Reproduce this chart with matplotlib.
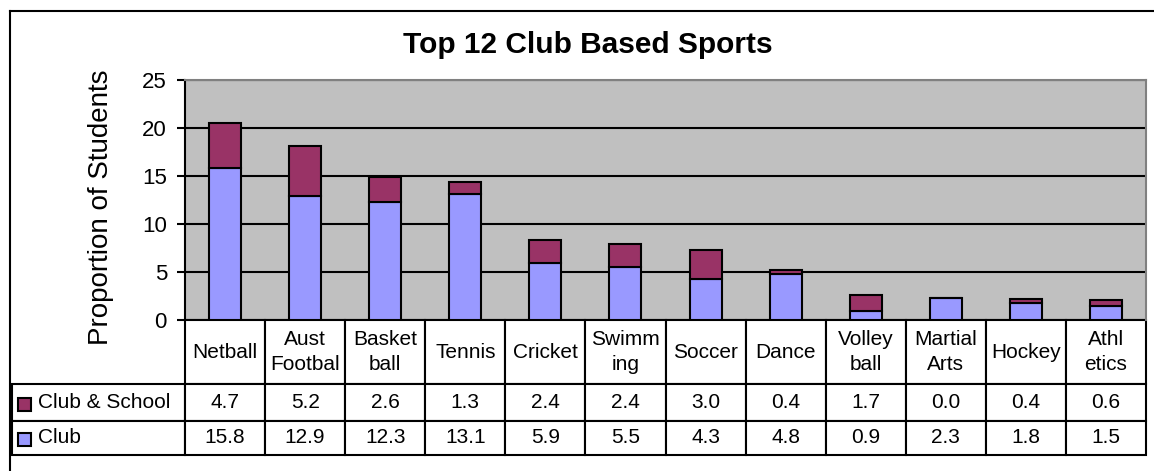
import matplotlib
matplotlib.use("Agg")
import matplotlib.pyplot as plt
from matplotlib.table import Table
from matplotlib.patches import Rectangle
from matplotlib.lines import Line2D
import numpy as np

plt.rcParams['font.family'] = ['Liberation Sans', 'DejaVu Sans']

categories = ["Netball", "Aust\nFootbal", "Basket\nball", "Tennis", "Cricket",
              "Swimm\ning", "Soccer", "Dance", "Volley\nball", "Martial\nArts",
              "Hockey", "Athl\netics"]
club_school = [4.7, 5.2, 2.6, 1.3, 2.4, 2.4, 3.0, 0.4, 1.7, 0.0, 0.4, 0.6]
club = [15.8, 12.9, 12.3, 13.1, 5.9, 5.5, 4.3, 4.8, 0.9, 2.3, 1.8, 1.5]
series_names = ["Club & School", "Club"]
yticks = [0, 5, 10, 15, 20, 25]
title = "Top 12 Club Based Sports"
ylabel = "Proportion of Students"

C_CS = "#993366"
C_CLUB = "#9999FF"
W, H = 1154, 471

fig = plt.figure(figsize=(W / 100, H / 100), dpi=100)
fig.patch.set_facecolor("white")

# plot area in pixels
L, R, T, B = 185, 1146, 80, 320
ax = fig.add_axes([L / W, 1 - B / H, (R - L) / W, (B - T) / H])
ax.set_facecolor("#C0C0C0")

x = np.arange(len(categories))
ax.bar(x, club, width=0.4, color=C_CLUB, edgecolor="black", linewidth=1.5, zorder=3)
ax.bar(x, club_school, width=0.4, bottom=club, color=C_CS, edgecolor="black",
       linewidth=1.5, zorder=3)

ax.set_xlim(-0.5, len(categories) - 0.5)
ax.set_ylim(0, 25)
ax.set_yticks(yticks)
ax.set_xticks([])
ax.tick_params(axis="y", length=6, width=1.5, pad=7, labelsize=16, colors="black")
ax.yaxis.grid(True, color="black", linewidth=1.5)
ax.set_axisbelow(True)
for s in ["top", "right"]:
    ax.spines[s].set_color("#808080")
    ax.spines[s].set_linewidth(1.5)
ax.spines["left"].set_color("black")
ax.spines["left"].set_linewidth(1.5)
ax.spines["bottom"].set_visible(False)

# data table
h0, h1, h2 = 64 / 240, 37 / 240, 34 / 240
cw = 1 / len(categories)
rlw = (L - 12) / (R - L)
tbl = Table(ax, bbox=[0, -(h0 + h1 + h2), 1, h0 + h1 + h2])
tbl.auto_set_font_size(False)
for j, c in enumerate(categories):
    cell = tbl.add_cell(0, j, cw, h0, text=c, loc="center", facecolor="white",
                        edgecolor="black")
    cell.get_text().set_linespacing(1.4)
rows = [club_school, club]
heights = [h1, h2]
for i, (name, vals) in enumerate(zip(series_names, rows)):
    cell = tbl.add_cell(i + 1, -1, rlw, heights[i], text=name, loc="left",
                        facecolor="white", edgecolor="black")
    cell.PAD = 26 / (L - 12)
    for j, v in enumerate(vals):
        tbl.add_cell(i + 1, j, cw, heights[i], text=f"{v:.1f}", loc="center",
                     facecolor="white", edgecolor="black")
tbl.set_fontsize(15)
for cell in tbl.get_celld().values():
    cell.set_linewidth(1.5)
ax.add_table(tbl)

# legend keys in the table
ax_w = R - L
for i, col in enumerate([C_CS, C_CLUB]):
    yc = [405, 440][i]
    ax.add_patch(Rectangle(((18 - L) / ax_w, (B - yc - 6.5) / 240), 13 / ax_w, 13 / 240,
                           transform=ax.transAxes, facecolor=col, edgecolor="black",
                           linewidth=1.5, clip_on=False, zorder=5))

# outer chart border (top and left visible)
fig.add_artist(Line2D([10 / W, 10 / W], [0, 1 - 11 / H], transform=fig.transFigure,
                      color="black", linewidth=1.5))
fig.add_artist(Line2D([10 / W, 1], [1 - 11 / H, 1 - 11 / H], transform=fig.transFigure,
                      color="black", linewidth=1.5))

fig.text(588 / W, 1 - 45 / H, title, ha="center", va="center", fontsize=21.5,
         fontweight="bold")
fig.text(101 / W, 1 - 207 / H, ylabel, rotation=90, ha="center", va="center",
         fontsize=20)

fig.savefig("out.png", dpi=100)
